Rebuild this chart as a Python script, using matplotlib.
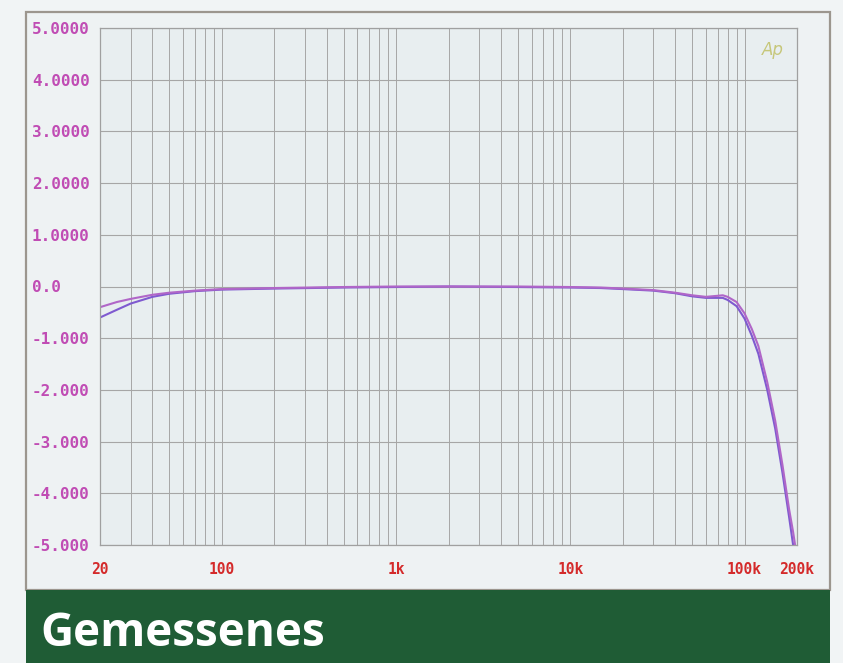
import matplotlib
matplotlib.use("Agg")
import matplotlib.pyplot as plt
from matplotlib.patches import Rectangle
from matplotlib.ticker import FixedLocator, NullFormatter
import numpy as np

# ---- data ----
freq = [20, 25, 30, 40, 50, 70, 100, 200, 500, 1000, 2000, 5000, 10000, 15000,
        20000, 30000, 40000, 50000, 60000, 70000, 75000, 80000, 90000, 100000,
        110000, 120000, 135000, 150000, 165000, 180000, 190000, 195000]
curve_a = [-0.60, -0.45, -0.33, -0.20, -0.14, -0.09, -0.06, -0.04, -0.02, -0.01, 0.00,
           -0.01, -0.02, -0.03, -0.05, -0.08, -0.13, -0.19, -0.22, -0.22, -0.22, -0.26,
           -0.38, -0.62, -0.95, -1.30, -2.00, -2.75, -3.60, -4.45, -5.00, -5.3]
curve_b = [-0.40, -0.30, -0.24, -0.16, -0.12, -0.08, -0.05, -0.03, -0.01, 0.00, 0.00,
           0.00, -0.01, -0.02, -0.04, -0.07, -0.12, -0.17, -0.20, -0.18, -0.17, -0.20,
           -0.30, -0.52, -0.82, -1.15, -1.85, -2.60, -3.45, -4.30, -4.75, -5.00]

y_ticks = [5, 4, 3, 2, 1, 0, -1, -2, -3, -4, -5]
y_labels = ["5.0000", "4.0000", "3.0000", "2.0000", "1.0000", "0.0",
            "-1.000", "-2.000", "-3.000", "-4.000", "-5.000"]
x_ticks = [20, 100, 1000, 10000, 100000, 200000]
x_labels = ["20", "100", "1k", "10k", "100k", "200k"]
title = "Gemessenes"

# ---- figure ----
W, H = 843, 663
fig = plt.figure(figsize=(W / 100, H / 100), dpi=100)
fig.patch.set_facecolor("#f1f4f5")

# outer frame
fig.patches.append(Rectangle((26 / W, 73 / H), 804 / W, 578 / H, transform=fig.transFigure,
                             facecolor="#eef2f3", edgecolor="#9c968e", lw=1.6, zorder=0))
# green banner
fig.patches.append(Rectangle((26 / W, 0), 804 / W, 73 / H, transform=fig.transFigure,
                             facecolor="#1f5c35", edgecolor="none", zorder=1))
fig.text(40 / W, 30 / H, title, color="white", fontsize=33, fontweight="bold",
         family=["Open Sans", "DejaVu Sans"], ha="left", va="center", zorder=3)

ax = fig.add_axes([100 / W, 118 / H, 697 / W, 517 / H])
ax.set_zorder(2)
ax.set_facecolor("#e8eef0")
ax.set_xscale("log")
ax.set_xlim(20, 200000)
ax.set_ylim(-5, 5)

minor = []
for dec in [10, 100, 1000, 10000, 100000]:
    for m in range(2, 10):
        v = dec * m
        if 20 < v < 200000:
            minor.append(v)
ax.xaxis.set_minor_locator(FixedLocator(minor))
ax.xaxis.set_minor_formatter(NullFormatter())
ax.set_xticks(x_ticks)
ax.set_xticklabels(x_labels)
ax.set_yticks(y_ticks)
ax.set_yticklabels(y_labels)

ax.grid(True, which="both", axis="x", color="#a6a6a6", lw=0.7)
ax.grid(True, which="major", axis="y", color="#a6a6a6", lw=0.8)
ax.tick_params(which="both", length=0)
ax.tick_params(axis="y", pad=49)
ax.tick_params(axis="x", pad=12)
for lab in ax.get_yticklabels():
    lab.set_horizontalalignment("left")
    lab.set_color("#c04cb4")
    lab.set_family("DejaVu Sans Mono")
    lab.set_fontweight("bold")
    lab.set_fontsize(11.5)
for lab in ax.get_xticklabels():
    lab.set_color("#d42a2a")
    lab.set_family("DejaVu Sans Mono")
    lab.set_fontweight("bold")
    lab.set_fontsize(10.5)
for s in ax.spines.values():
    s.set_color("#a0a0a0")
    s.set_linewidth(0.9)

ax.plot(freq, curve_a, color="#7f5ad0", lw=1.5, clip_on=True)
ax.plot(freq, curve_b, color="#b066c8", lw=1.5, clip_on=True)

ax.text(0.965, 0.975, "Ap", transform=ax.transAxes, color="#c6c77a", fontsize=12,
        fontstyle="italic", ha="center", va="top")

fig.savefig("out.png", dpi=100, facecolor=fig.get_facecolor())
